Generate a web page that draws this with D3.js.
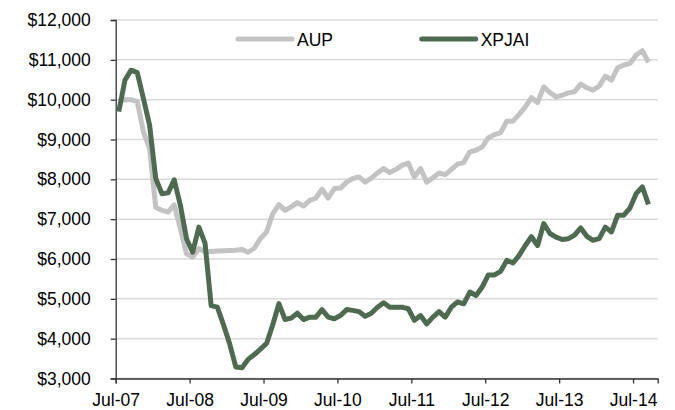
<!DOCTYPE html>
<html>
<head>
<meta charset="utf-8">
<script src="https://cdn.jsdelivr.net/npm/d3@7"></script>
<style>
    body { margin: 0; background: #ffffff; }
    svg { display: block; font-family: "Liberation Sans", Arial, sans-serif; }
</style>
</head>
<body>
<svg id="chart" width="675" height="410"></svg>
<script>

// monthly values, Jul-07 .. Sep-14 (growth of $10,000)
const aup = [
    9950, 10000, 10000, 9950, 9200, 8770, 7300, 7220, 7180, 7360,
    6760, 6130, 6050, 6260, 6180, 6190, 6200, 6210, 6215, 6220,
    6240, 6170, 6270, 6510, 6680, 7140, 7365, 7220, 7310, 7415,
    7330, 7470, 7530, 7750, 7530, 7770, 7780, 7930, 8020, 8060,
    7930, 8030, 8160, 8270, 8170, 8250, 8350, 8410, 8060, 8270,
    7930, 8040, 8160, 8120, 8250, 8380, 8420, 8690, 8730, 8815,
    9040, 9125, 9175, 9460, 9460, 9630, 9820, 10050, 9930, 10320,
    10180, 10070, 10110, 10170, 10200, 10390, 10300, 10240, 10340, 10590,
    10490, 10800, 10870, 10910, 11120, 11230, 10940
]

const xpjai = [
    9700, 10490, 10740, 10680, 10030, 9360, 8020, 7640, 7660, 7990,
    7350, 6510, 6170, 6800, 6400, 4830, 4790, 4350, 3870, 3290,
    3270, 3480, 3600, 3740, 3880, 4350, 4880, 4480, 4515, 4640,
    4480, 4540, 4540, 4730, 4540, 4500, 4580, 4730, 4710, 4680,
    4560, 4640, 4790, 4900, 4790, 4790, 4790, 4750, 4460, 4580,
    4370, 4540, 4680, 4540, 4790, 4920, 4875, 5170, 5085, 5295,
    5600, 5600, 5690, 5965, 5900, 6090, 6340, 6560, 6340, 6890,
    6640, 6550, 6490, 6510, 6600, 6780, 6570, 6470, 6510, 6800,
    6680, 7100, 7100, 7280, 7640, 7810, 7370
]

// axis months: Jul-07 .. Oct-14
const months = d3.timeMonth.range(new Date(2007, 6, 1), new Date(2014, 10, 1))
const xTickMonths = [0, 12, 24, 36, 48, 60, 72, 84]
const yTicks = [3000, 4000, 5000, 6000, 7000, 8000, 9000, 10000, 11000, 12000]

const seriesNames = ["AUP", "XPJAI"]
const seriesColors = ["#c3c3c3", "#4e6b52"]

// plot box
const box = { left: 115.7, right: 657.7, top: 20, bottom: 378.5 }

const svg = d3.select("#chart")

const xScale = d3.scaleLinear()
    .domain([0, months.length])
    .range([box.left, box.right])

const yScale = d3.scaleLinear()
    .domain([3000, 12000])
    .range([box.bottom, box.top])

// gridlines
svg.append("g")
    .attr("class", "y-grid")
    .selectAll("line")
    .data(yTicks)
    .join("line")
    .attr("x1", box.left)
    .attr("x2", box.right)
    .attr("y1", d => yScale(d))
    .attr("y2", d => yScale(d))
    .attr("stroke", "#dadada")
    .attr("stroke-width", 1.5)

// y axis
const yAxis = d3.axisLeft(yScale)
    .tickValues(yTicks)
    .tickSize(5)
    .tickPadding(20)
    .tickFormat(d => "$" + d3.format(",")(d))

svg.append("g")
    .attr("class", "y-axis")
    .attr("transform", `translate(${box.left},0)`)
    .call(yAxis)
    .call(g => g.select(".domain").attr("stroke", "#333").attr("stroke-width", 1.3))
    .call(g => g.selectAll(".tick line").attr("stroke", "#333").attr("stroke-width", 1.3))
    .call(g => g.selectAll(".tick text")
        .attr("fill", "#000")
        .attr("font-size", "17.5px")
        .attr("font-family", "Liberation Sans, Arial, sans-serif"))

// x axis
const fmt = d3.timeFormat("%b-%y")
const xAxis = d3.axisBottom(xScale)
    .tickValues(xTickMonths)
    .tickSize(5)
    .tickPadding(10.5)
    .tickFormat(i => fmt(months[i]))

svg.append("g")
    .attr("class", "x-axis")
    .attr("transform", `translate(0,${box.bottom})`)
    .call(xAxis)
    .call(g => g.select(".domain").attr("stroke", "#333").attr("stroke-width", 1.3))
    .call(g => g.selectAll(".tick line").attr("stroke", "#333").attr("stroke-width", 1.3))
    .call(g => g.selectAll(".tick text")
        .attr("fill", "#000")
        .attr("font-size", "17.5px")
        .attr("font-family", "Liberation Sans, Arial, sans-serif"))

// lines, points sit in the middle of each month
const line = d3.line()
    .x((d, i) => xScale(i + 0.5))
    .y(d => yScale(d))

svg.append("g")
    .attr("class", "lines")
    .selectAll("path")
    .data([aup, xpjai])
    .join("path")
    .attr("d", line)
    .attr("fill", "none")
    .attr("stroke", (d, i) => seriesColors[i])
    .attr("stroke-width", 5)
    .attr("stroke-linejoin", "round")

// legend
const legendX = [238, 421.7]
const legend = svg.append("g")
    .attr("class", "legend")
    .selectAll("g")
    .data(seriesNames)
    .join("g")
    .attr("transform", (d, i) => `translate(${legendX[i]},39)`)

legend.append("line")
    .attr("x1", 0)
    .attr("x2", 54)
    .attr("stroke", (d, i) => seriesColors[i])
    .attr("stroke-width", 5)
    .attr("stroke-linecap", "round")

legend.append("text")
    .attr("x", 59)
    .attr("y", 6.5)
    .text(d => d)
    .attr("font-size", "17.5px")
    .attr("fill", "#000")

</script>
</body>
</html>
